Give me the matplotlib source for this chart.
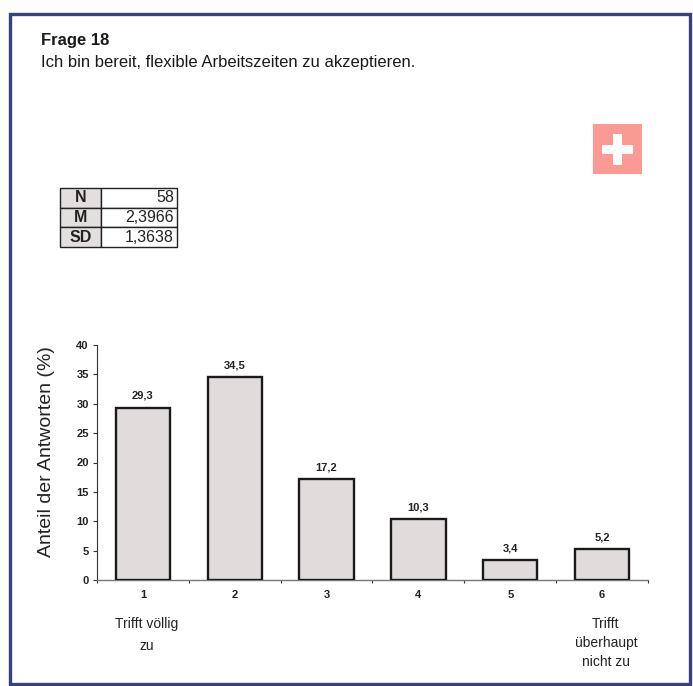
import matplotlib
matplotlib.use("Agg")
import matplotlib.pyplot as plt
from matplotlib.patches import Rectangle

plt.rcParams["font.family"] = ["Liberation Sans", "DejaVu Sans"]

categories = [1, 2, 3, 4, 5, 6]
values = [29.3, 34.5, 17.2, 10.3, 3.4, 5.2]
value_labels = ["29,3", "34,5", "17,2", "10,3", "3,4", "5,2"]
y_ticks = [0, 5, 10, 15, 20, 25, 30, 35, 40]
stat_names = ["N", "M", "SD"]
stat_values = ["58", "2,3966", "1,3638"]

W, H = 693, 686
fig = plt.figure(figsize=(W / 100, H / 100), dpi=100, facecolor="#fdfdfb")


def px_axes(x0, y0, x1, y1):
    # pixel box measured from the top left of the picture
    return fig.add_axes([x0 / W, 1 - y1 / H, (x1 - x0) / W, (y1 - y0) / H])


# overlay in pixel coordinates for frame and flag
bg = fig.add_axes([0, 0, 1, 1])
bg.set_xlim(0, W)
bg.set_ylim(H, 0)
bg.axis("off")
bg.add_patch(Rectangle((9.5, 13.5), 680, 670.5, fc="white", ec="#38407f", lw=2.4))
bg.add_patch(Rectangle((592.5, 124), 49.5, 50, fc="#fb9a92", ec="none"))
bg.add_patch(Rectangle((613, 133.5), 9, 31, fc="white", ec="none"))
bg.add_patch(Rectangle((602, 145), 31, 9, fc="white", ec="none"))

fig.text(41 / W, 1 - 41 / H, "Frage 18", fontsize=12, fontweight="bold", color="#1a1a1a", va="center")
fig.text(41 / W, 1 - 62 / H, "Ich bin bereit, flexible Arbeitszeiten zu akzeptieren.",
         fontsize=12, color="#1a1a1a", va="center")

# kleine Tabelle
tax = px_axes(60, 188, 177, 247)
tax.axis("off")
tbl = tax.table(cellText=[[n, v] for n, v in zip(stat_names, stat_values)],
                colWidths=[41 / 117, 76 / 117], bbox=[0, 0, 1, 1])
tbl.auto_set_font_size(False)
for (r, c), cell in tbl.get_celld().items():
    cell.set_linewidth(1.0)
    cell.set_edgecolor("#222222")
    cell.get_text().set_fontsize(11.5)
    cell.get_text().set_color("#222222")
    if c == 0:
        cell.set_facecolor("#e2dfde")
        cell.get_text().set_ha("center")
        cell.get_text().set_fontweight("bold")
        cell.PAD = 0.02
    else:
        cell.get_text().set_ha("right")
        cell.PAD = 0.04

# Balken
ax = px_axes(97, 345, 648, 580)
bars = ax.bar(categories, values, width=0.59, color="#e0dcdb", edgecolor="#1a1a1a", linewidth=1.7, zorder=3)
ax.bar_label(bars, labels=value_labels, padding=5, fontsize=8, fontweight="bold", color="#222222")
ax.set_xlim(0.5, 6.5)
ax.set_ylim(0, 40)
ax.set_yticks(y_ticks)
ax.set_xticks([c + 0.5 for c in [0] + categories])
ax.set_xticklabels([])
ax.set_xticks(categories, minor=True)
ax.set_xticklabels(categories, minor=True)
ax.tick_params(axis="x", which="major", length=2, width=0.8, color="#333333")
ax.tick_params(axis="x", which="minor", length=0, pad=7.5, labelsize=8, labelcolor="#222222")
ax.tick_params(axis="y", length=3, width=0.8, pad=3, labelsize=8, labelcolor="#222222", color="#333333")
for t in ax.get_xticklabels(minor=True) + ax.get_yticklabels():
    t.set_fontweight("bold")
ax.spines["top"].set_visible(False)
ax.spines["right"].set_visible(False)
ax.spines["left"].set_color("#333333")
ax.spines["bottom"].set_color("#777777")
ax.spines["bottom"].set_linewidth(1.0)
ax.patch.set_alpha(0)

fig.text(47 / W, 1 - 452 / H, "Anteil der Antworten (%)", rotation=90, fontsize=14,
         color="#222222", ha="center", va="center")
fig.text(147 / W, 1 - 635 / H, "Trifft völlig\nzu", fontsize=10, color="#222222",
         ha="center", va="center", linespacing=1.64)
fig.text(606 / W, 1 - 643 / H, "Trifft\nüberhaupt\nnicht zu", fontsize=10, color="#222222",
         ha="center", va="center", linespacing=1.5)

fig.savefig("out.png", dpi=100, facecolor=fig.get_facecolor())
